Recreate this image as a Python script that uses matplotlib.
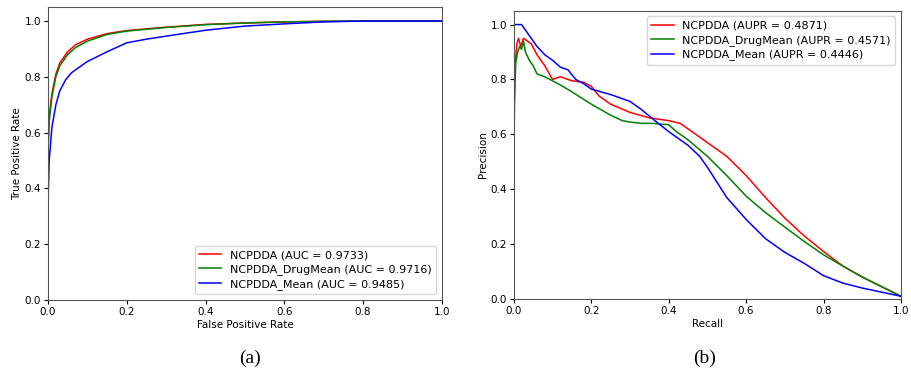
import numpy as np
import matplotlib.pyplot as plt

# ROC curves (a)
roc_fpr_red = [0.0, 0.0, 0.003, 0.01, 0.02, 0.03, 0.05, 0.07, 0.1, 0.15, 0.2, 0.3, 0.4, 0.5, 0.6, 0.7, 0.8, 1.0]
roc_tpr_red = [0.0, 0.55, 0.66, 0.74, 0.81, 0.85, 0.89, 0.915, 0.935, 0.955, 0.966, 0.978, 0.988, 0.993, 0.997, 0.999, 1.0, 1.0]
roc_fpr_green = [0.0, 0.0, 0.003, 0.01, 0.02, 0.03, 0.05, 0.07, 0.1, 0.15, 0.2, 0.3, 0.4, 0.5, 0.6, 0.7, 0.8, 1.0]
roc_tpr_green = [0.0, 0.53, 0.64, 0.73, 0.80, 0.84, 0.88, 0.905, 0.928, 0.952, 0.964, 0.977, 0.987, 0.993, 0.997, 0.999, 1.0, 1.0]
roc_fpr_blue = [0.0, 0.0, 0.003, 0.01, 0.02, 0.03, 0.045, 0.06, 0.08, 0.1, 0.15, 0.2, 0.25, 0.3, 0.4, 0.5, 0.6, 0.7, 0.8, 1.0]
roc_tpr_blue = [0.0, 0.35, 0.50, 0.62, 0.70, 0.75, 0.79, 0.815, 0.835, 0.855, 0.89, 0.922, 0.935, 0.946, 0.967, 0.982, 0.99, 0.997, 1.0, 1.0]

# PR curves (b)
pr_rec_red = [0.0, 0.003, 0.008, 0.012, 0.018, 0.025, 0.035, 0.045, 0.06, 0.08, 0.1, 0.12, 0.15, 0.18, 0.2, 0.22, 0.25, 0.3, 0.35, 0.4, 0.43, 0.47, 0.5, 0.55, 0.6, 0.65, 0.7, 0.75, 0.8, 0.85, 0.9, 0.95, 1.0]
pr_prec_red = [0.5, 0.85, 0.93, 0.95, 0.92, 0.95, 0.94, 0.93, 0.89, 0.85, 0.80, 0.81, 0.795, 0.79, 0.775, 0.74, 0.71, 0.68, 0.66, 0.65, 0.64, 0.6, 0.57, 0.52, 0.45, 0.37, 0.295, 0.23, 0.173, 0.12, 0.08, 0.045, 0.01]
pr_rec_green = [0.0, 0.005, 0.01, 0.015, 0.02, 0.025, 0.03, 0.04, 0.05, 0.06, 0.08, 0.1, 0.12, 0.15, 0.2, 0.25, 0.28, 0.3, 0.33, 0.36, 0.4, 0.42, 0.45, 0.5, 0.55, 0.6, 0.65, 0.7, 0.75, 0.8, 0.85, 0.9, 0.95, 1.0]
pr_prec_green = [0.67, 0.86, 0.9, 0.92, 0.91, 0.94, 0.9, 0.87, 0.85, 0.82, 0.81, 0.795, 0.78, 0.755, 0.71, 0.67, 0.65, 0.645, 0.64, 0.64, 0.635, 0.61, 0.58, 0.52, 0.45, 0.375, 0.315, 0.262, 0.21, 0.161, 0.12, 0.08, 0.045, 0.01]
pr_rec_blue = [0.0, 0.01, 0.02, 0.03, 0.04, 0.05, 0.06, 0.08, 0.1, 0.12, 0.14, 0.16, 0.18, 0.2, 0.25, 0.3, 0.33, 0.36, 0.4, 0.45, 0.48, 0.5, 0.55, 0.6, 0.65, 0.7, 0.75, 0.8, 0.85, 0.9, 0.95, 1.0]
pr_prec_blue = [1.0, 1.0, 1.0, 0.98, 0.96, 0.94, 0.92, 0.89, 0.87, 0.845, 0.835, 0.80, 0.785, 0.765, 0.745, 0.72, 0.69, 0.655, 0.61, 0.56, 0.52, 0.48, 0.37, 0.29, 0.22, 0.17, 0.13, 0.085, 0.058, 0.04, 0.025, 0.01]

roc_labels = ['NCPDDA (AUC = 0.9733)', 'NCPDDA_DrugMean (AUC = 0.9716)', 'NCPDDA_Mean (AUC = 0.9485)']
pr_labels = ['NCPDDA (AUPR = 0.4871)', 'NCPDDA_DrugMean (AUPR = 0.4571)', 'NCPDDA_Mean (AUPR = 0.4446)']
colors = ['red', 'green', 'blue']

fig = plt.figure(figsize=(9.11, 3.74), dpi=100)
ax1 = fig.add_axes([0.0527, 0.198, 0.4323, 0.783])
ax2 = fig.add_axes([0.564, 0.2005, 0.425, 0.7705])

for x, y, c, lab in zip([roc_fpr_red, roc_fpr_green, roc_fpr_blue],
                        [roc_tpr_red, roc_tpr_green, roc_tpr_blue], colors, roc_labels):
    ax1.plot(x, y, color=c, lw=1.1, label=lab)
ax1.set_xlim(0, 1)
ax1.set_ylim(0, 1.05)
ax1.set_xlabel('False Positive Rate', fontsize=7.5, labelpad=2)
ax1.set_ylabel('True Positive Rate', fontsize=7.5, labelpad=2)
ax1.tick_params(labelsize=7.5, length=3, pad=2)
ax1.legend(loc='lower right', fontsize=8, labelspacing=0.35)

for x, y, c, lab in zip([pr_rec_red, pr_rec_green, pr_rec_blue],
                        [pr_prec_red, pr_prec_green, pr_prec_blue], colors, pr_labels):
    ax2.plot(x, y, color=c, lw=1.1, label=lab)
ax2.set_xlim(0, 1)
ax2.set_ylim(0, 1.05)
ax2.set_xlabel('Recall', fontsize=7.5, labelpad=2)
ax2.set_ylabel('Precision', fontsize=7.5, labelpad=2)
ax2.tick_params(labelsize=7.5, length=3, pad=2)
ax2.legend(loc='upper right', fontsize=8, labelspacing=0.35)

for ax in (ax1, ax2):
    for s in ax.spines.values():
        s.set_color('#555555')

fig.text(250 / 911, 1 - 358 / 374, '(a)', ha='center', va='center', fontsize=14, family='Liberation Serif')
fig.text(705 / 911, 1 - 358 / 374, '(b)', ha='center', va='center', fontsize=14, family='Liberation Serif')

fig.savefig('out.png', dpi=100)
